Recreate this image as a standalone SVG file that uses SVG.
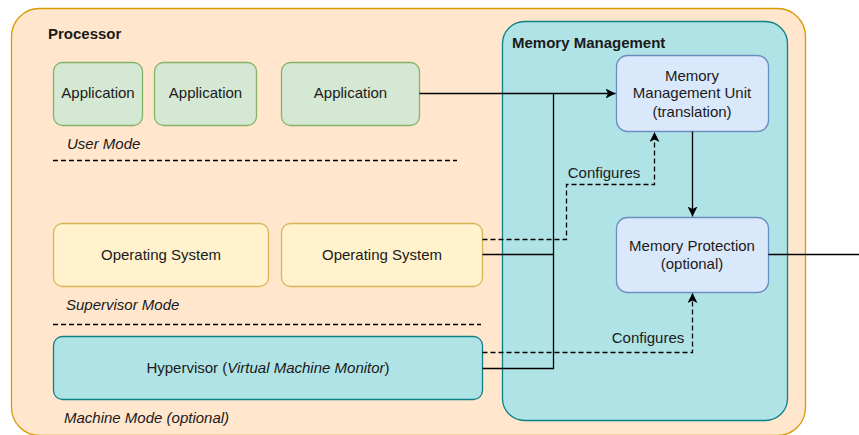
<svg xmlns="http://www.w3.org/2000/svg" width="859" height="435" viewBox="0 0 859 435">
<style>
text{font-family:"Liberation Sans",Arial,sans-serif;font-size:15px;fill:#1a1a1a}
.c{text-anchor:middle;dominant-baseline:central}
.b{font-weight:bold}
.i{font-style:italic}
.app{fill:#d5e8d4;stroke:#82b366;stroke-width:1.3}
.os{fill:#fff2cc;stroke:#d6b656;stroke-width:1.3}
.teal{fill:#b0e3e6;stroke:#0e8088;stroke-width:1.3}
.blue{fill:#dae8fc;stroke:#6c8ebf;stroke-width:1.3}
.ln{fill:none;stroke:#000;stroke-width:1.3}
.dash{fill:none;stroke:#000;stroke-width:1.3;stroke-dasharray:5 3}
</style>
<defs>
<marker id="arr" viewBox="0 0 10 10" refX="10" refY="5" markerWidth="10" markerHeight="10" markerUnits="userSpaceOnUse" orient="auto">
<path d="M0,0 L10,5 L0,10 L2.5,5 Z" fill="#000"/>
</marker>
</defs>
<g id="processor">
<rect x="11.5" y="8.5" width="794" height="427" rx="28" fill="#ffe6cc" stroke="#d79b00" stroke-width="1.3"/>
<text x="48" y="33" class="b" dominant-baseline="central">Processor</text>
</g>
<g id="memory-management">
<rect x="502.5" y="21.5" width="285" height="399" rx="22" class="teal"/>
<text x="512" y="42" class="b" dominant-baseline="central">Memory Management</text>
</g>
<g id="app1"><rect x="53.5" y="62.5" width="89" height="63" rx="9" class="app"/><text x="98" y="92" class="c">Application</text></g>
<g id="app2"><rect x="154.5" y="62.5" width="102" height="63" rx="9" class="app"/><text x="205.5" y="92" class="c">Application</text></g>
<g id="app3"><rect x="281.5" y="62.5" width="138" height="63" rx="9" class="app"/><text x="350.5" y="92" class="c">Application</text></g>
<g id="user-mode"><text x="67" y="143" class="i" dominant-baseline="central">User Mode</text></g>
<g id="os1"><rect x="53.5" y="223.5" width="215" height="63" rx="9" class="os"/><text x="161" y="254" class="c">Operating System</text></g>
<g id="os2"><rect x="281.5" y="223.5" width="201" height="63" rx="9" class="os"/><text x="382" y="254" class="c">Operating System</text></g>
<g id="supervisor-mode"><text x="66" y="304" class="i" dominant-baseline="central">Supervisor Mode</text></g>
<g id="hypervisor"><rect x="53.5" y="336.5" width="429" height="63" rx="9" class="teal"/><text x="268" y="367" class="c">Hypervisor (<tspan class="i">Virtual Machine Monitor</tspan>)</text></g>
<g id="machine-mode"><text x="64" y="417" class="i" dominant-baseline="central">Machine Mode (optional)</text></g>
<g id="mmu"><rect x="616.5" y="55.5" width="152" height="76" rx="11" class="blue"/>
<text x="692" y="75" class="c">Memory</text><text x="692" y="92.5" class="c">Management Unit</text><text x="692" y="111" class="c">(translation)</text></g>
<g id="memory-protection"><rect x="616.5" y="217.5" width="152" height="75" rx="11" class="blue"/>
<text x="692" y="245" class="c">Memory Protection</text><text x="692" y="263.5" class="c">(optional)</text></g>
<g id="connectors">
<line x1="53" y1="160.5" x2="457" y2="160.5" class="dash"/>
<line x1="53" y1="324.5" x2="481" y2="324.5" class="dash"/>
<path d="M419.5,93.5 H615.5" class="ln" marker-end="url(#arr)"/>
<path d="M482.5,254.5 H553.5 V93.5" class="ln"/>
<path d="M482.5,368.5 H553.5 V254.5" class="ln"/>
<path d="M482.5,239.5 H566.5 V184.5 H654.5 V132" class="dash" marker-end="url(#arr)"/>
<text x="604" y="172" class="c">Configures</text>
<path d="M482.5,352.5 H692.5 V293" class="dash" marker-end="url(#arr)"/>
<text x="648" y="337" class="c">Configures</text>
<path d="M692.5,131.5 V216.5" class="ln" marker-end="url(#arr)"/>
<path d="M768.5,254.5 H859" class="ln"/>
</g>
</svg>
